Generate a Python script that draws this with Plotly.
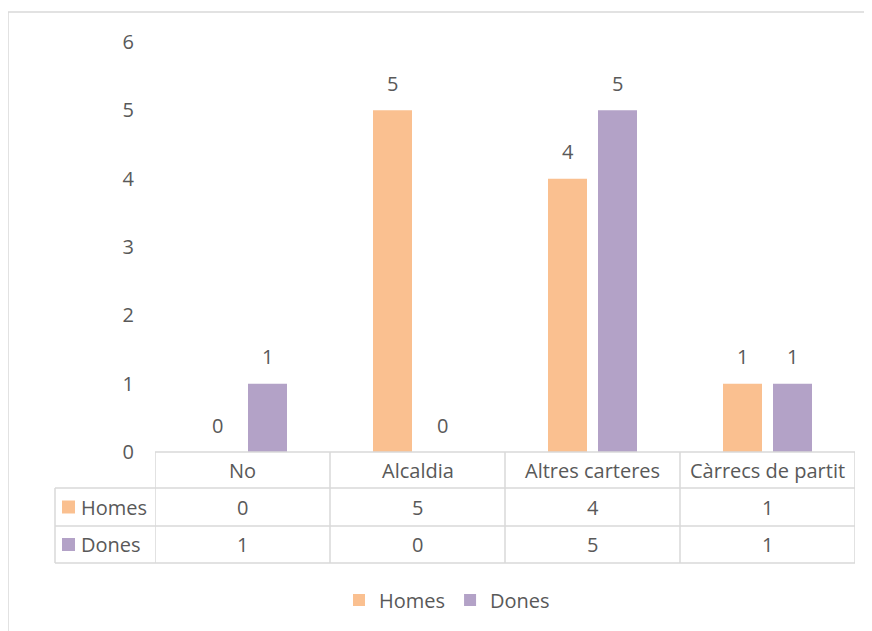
import plotly.graph_objects as go

categories = ["No", "Alcaldia", "Altres carteres", "Càrrecs de partit"]
series_names = ["Homes", "Dones"]
homes = [0, 5, 4, 1]
dones = [1, 0, 5, 1]
colors = ["#FAC090", "#B3A2C7"]
y_ticks = [0, 1, 2, 3, 4, 5, 6]

FONT = "Open Sans"
TXT = "#595959"
GRID = "#D9D9D9"
FS = 20

OFF = 8  # page body margin
W, H = 872 - OFF, 631 - OFF
L, R, T, B = 155 - OFF, 872 - 855, 42 - OFF, 631 - 452
PW, PH = W - L - R, H - T - B

def px_x(p):
    return (p - OFF - L) / PW

def px_y(p):
    return (H - B - (p - OFF)) / PH

values = [homes, dones]
fig = go.Figure()
for name, vals, col in zip(series_names, values, colors):
    fig.add_trace(go.Bar(x=categories, y=vals, name=name, marker=dict(color=col, line=dict(width=0))))

shapes = []
annotations = []

# outer chart border (left and top visible)
shapes.append(dict(type="rect", xref="paper", yref="paper", x0=px_x(8), x1=px_x(900), y0=px_y(12), y1=px_y(700),
                   line=dict(color=GRID, width=1.5), layer="below"))

# data table lines
row_bounds = [452, 488, 526, 563]
n = len(categories)
shapes.append(dict(type="line", xref="x", yref="paper", x0=-0.5, x1=n - 0.5, y0=px_y(row_bounds[0]), y1=px_y(row_bounds[0]),
                   line=dict(color=GRID, width=1.5)))
for rb in row_bounds[1:]:
    shapes.append(dict(type="line", xref="paper", yref="paper", x0=px_x(55), x1=1, y0=px_y(rb), y1=px_y(rb),
                       line=dict(color=GRID, width=1.5)))
for i in range(n + 1):
    shapes.append(dict(type="line", xref="x", yref="paper", x0=i - 0.5, x1=i - 0.5, y0=px_y(row_bounds[0]), y1=px_y(row_bounds[-1]),
                       line=dict(color=GRID, width=1.5)))
shapes.append(dict(type="line", xref="paper", yref="paper", x0=px_x(55), x1=px_x(55), y0=px_y(row_bounds[1]), y1=px_y(row_bounds[-1]),
                   line=dict(color=GRID, width=1.5)))

# header row
for c in categories:
    annotations.append(dict(x=c, y=px_y((row_bounds[0] + row_bounds[1]) / 2), xref="x", yref="paper",
                            xanchor="center", yanchor="middle",
                            text=c, showarrow=False, font=dict(family=FONT, size=FS, color=TXT)))
# series rows
for r, (name, vals, col) in enumerate(zip(series_names, values, colors)):
    yc = (row_bounds[r + 1] + row_bounds[r + 2]) / 2
    shapes.append(dict(type="rect", xref="paper", yref="paper", x0=px_x(62), x1=px_x(75), y0=px_y(yc - 6.5), y1=px_y(yc + 6.5),
                       fillcolor=col, line=dict(width=0)))
    annotations.append(dict(x=px_x(79), y=px_y(yc), xref="paper", yref="paper", xanchor="left", yanchor="middle",
                            text=name, showarrow=False, font=dict(family=FONT, size=FS, color=TXT)))
    for c, v in zip(categories, vals):
        annotations.append(dict(x=c, y=px_y(yc), xref="x", yref="paper", xanchor="center", yanchor="middle",
                                text=str(v), showarrow=False, font=dict(family=FONT, size=FS, color=TXT)))

# data labels above bars
for k, vals in enumerate(values):
    shift = -25 if k == 0 else 25
    for c, v in zip(categories, vals):
        annotations.append(dict(x=c, y=v, xref="x", yref="y", text=str(v), showarrow=False, xshift=shift, yshift=27,
                                yanchor="middle", font=dict(family=FONT, size=FS, color=TXT)))

fig.update_layout(
    width=W, height=H,
    margin=dict(l=L, r=R, t=T, b=B),
    paper_bgcolor="white", plot_bgcolor="white",
    barmode="group", bargap=0.4286, bargroupgap=0.22,
    font=dict(family=FONT, size=FS, color=TXT),
    xaxis=dict(showticklabels=False, showgrid=False, zeroline=False, showline=False, ticks="", range=[-0.5, n - 0.5]),
    yaxis=dict(range=[0, 6], tickvals=y_ticks, showgrid=False, zeroline=False, showline=False, ticks="",
               ticklabelstandoff=20, tickfont=dict(family=FONT, size=FS, color=TXT)),
    legend=dict(orientation="h", x=px_x(447), xanchor="center", y=px_y(600), yanchor="middle",
                font=dict(family=FONT, size=FS, color=TXT), itemwidth=30, traceorder="normal"),
    shapes=shapes, annotations=annotations,
)

fig.write_html("out.html")
